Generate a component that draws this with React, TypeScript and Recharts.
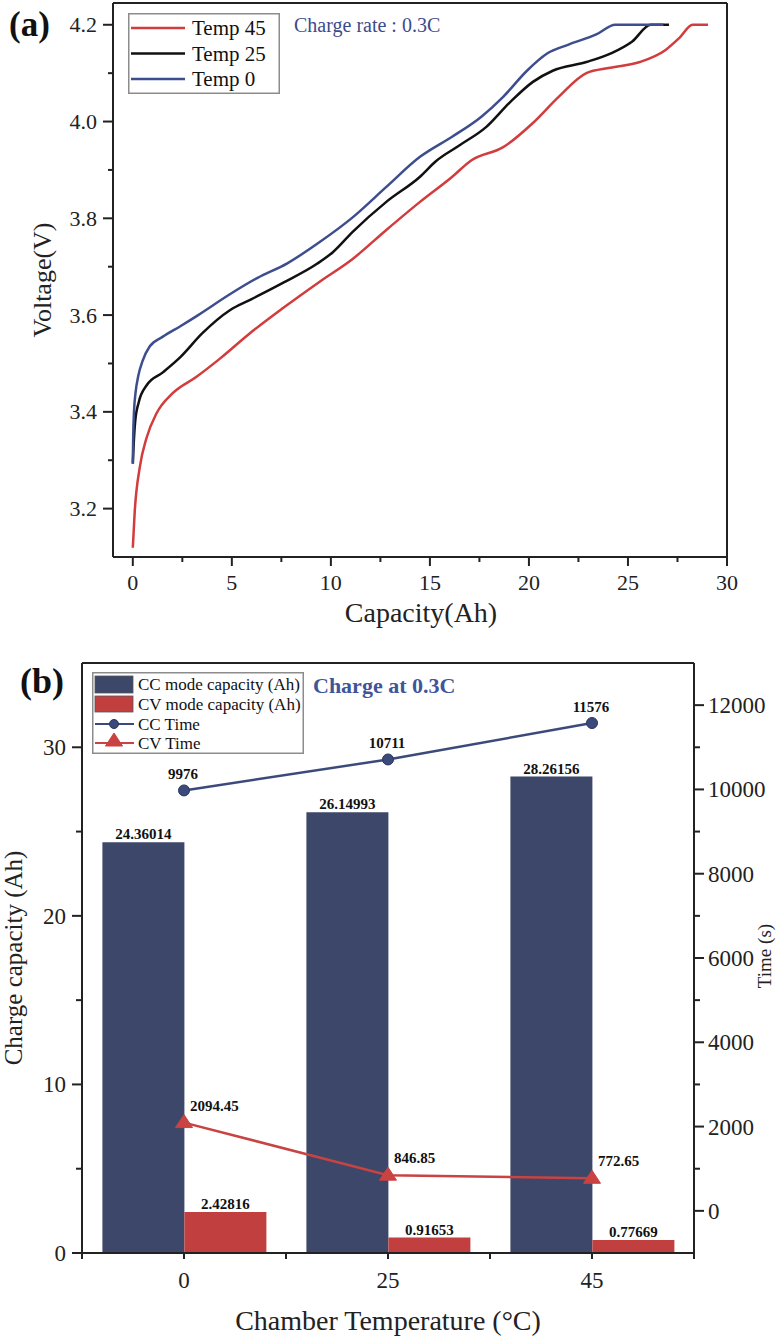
import React from "react";
import {
  Bar,
  ComposedChart,
  LabelList,
  Legend,
  Line,
  LineChart,
  ReferenceLine,
  XAxis,
  YAxis,
} from "recharts";

const FONT = '"Liberation Serif", "Times New Roman", Times, serif';
const INK = "#222";

// (a) charge curves, capacity (Ah) vs voltage (V)
const temp45Cap = [0, 0.1, 0.35, 0.7, 1.2, 2.0, 3.2, 4.4, 5.9, 7.6, 9.4, 11.1, 12.8, 14.5, 16.1, 17.1, 18.7, 20.2, 21.5, 22.9, 24.1, 25.6, 26.9, 27.6, 28.26, 29.04]
const temp45Volt = [3.119, 3.196, 3.285, 3.347, 3.397, 3.438, 3.472, 3.51, 3.562, 3.615, 3.668, 3.716, 3.776, 3.834, 3.885, 3.92, 3.947, 3.997, 4.051, 4.1, 4.111, 4.123, 4.148, 4.173, 4.2, 4.2]

const temp25Cap = [0, 0.04, 0.12, 0.3, 0.7, 1.5, 2.4, 3.5, 4.9, 6.0, 7.6, 9.3, 10.1, 11.1, 12.8, 14.5, 15.3, 16.5, 17.85, 19.0, 20.2, 21.2, 22.9, 24.2, 25.2, 26.15, 27.07]
const temp25Volt = [3.293, 3.33, 3.38, 3.42, 3.455, 3.481, 3.513, 3.562, 3.61, 3.633, 3.667, 3.706, 3.73, 3.772, 3.834, 3.886, 3.918, 3.951, 3.989, 4.038, 4.082, 4.105, 4.123, 4.142, 4.165, 4.2, 4.2]

const temp0Cap = [0, 0.02, 0.06, 0.14, 0.28, 0.5, 0.85, 1.5, 2.4, 3.3, 4.9, 6.3, 7.8, 9.4, 11.1, 12.8, 14.5, 16.1, 17.6, 18.7, 19.9, 20.9, 22.0, 23.4, 24.36, 26.79]
const temp0Volt = [3.293, 3.35, 3.4, 3.44, 3.475, 3.506, 3.535, 3.555, 3.577, 3.6, 3.643, 3.677, 3.707, 3.75, 3.802, 3.865, 3.927, 3.968, 4.01, 4.051, 4.105, 4.14, 4.159, 4.18, 4.2, 4.2]

const capacityTicks = [0, 2.5, 5, 7.5, 10, 12.5, 15, 17.5, 20, 22.5, 25, 27.5, 30]
const voltageTicks = [3.2, 3.3, 3.4, 3.5, 3.6, 3.7, 3.8, 3.9, 4.0, 4.1, 4.2]

// (b) capacity and time per chamber temperature
const chamberTemps = ["0", "25", "45"]
const ccCapacity = [24.36014, 26.14993, 28.26156]
const cvCapacity = [2.42816, 0.91653, 0.77669]
const ccTime = [9976, 10711, 11576]
const cvTime = [2094.45, 846.85, 772.65]

const chargeCapTicks = [0, 5, 10, 15, 20, 25, 30]
const timeTicks = [0, 1000, 2000, 3000, 4000, 5000, 6000, 7000, 8000, 9000, 10000, 11000, 12000]

const toPoints = (caps: number[], volts: number[]) =>
  caps.map((cap, i) => ({ cap, volt: volts[i] }))

const curveSeries = [
  { name: "Temp 45", color: "#d23c3c", points: toPoints(temp45Cap, temp45Volt) },
  { name: "Temp 25", color: "#111111", points: toPoints(temp25Cap, temp25Volt) },
  { name: "Temp 0", color: "#3d4e8e", points: toPoints(temp0Cap, temp0Volt) },
]

const rowsB = chamberTemps.map((temp, i) => ({
  temp,
  cc: ccCapacity[i],
  cv: cvCapacity[i],
  ccTime: ccTime[i],
  cvTime: cvTime[i],
}))

const CC_BAR = "#3c4769"
const CV_BAR = "#c23f3f"
const CC_LINE = "#3b4a7a"
const CV_LINE = "#c84341"

// chart (b) geometry
const B_W = 776
const B_H = 714
const B_MARGIN = { top: 33, right: 22, bottom: 41, left: 22 }
const B_AXIS_W = 60
const bandHalf = (B_W - B_MARGIN.left - B_MARGIN.right - 2 * B_AXIS_W) / chamberTemps.length / 2

const CapacityTick = ({ x, y, payload }: any) => {
  const v = Number(payload.value)
  const major = v % 5 === 0
  return (
    <g>
      <line x1={x} x2={x} y1={y} y2={y + (major ? 9 : 5)} stroke={INK} strokeWidth={2} />
      {major && (
        <text x={x} y={y + 33} textAnchor="middle" fontFamily={FONT} fontSize={22} fill={INK}>
          {v}
        </text>
      )}
    </g>
  )
}

const VoltageTick = ({ x, y, payload }: any) => {
  const v = Number(payload.value)
  const major = Math.round(v * 10) % 2 === 0
  return (
    <g>
      <line x1={x} x2={x - (major ? 10 : 5)} y1={y} y2={y} stroke={INK} strokeWidth={2} />
      {major && (
        <text x={x - 16} y={y + 7.5} textAnchor="end" fontFamily={FONT} fontSize={22} fill={INK}>
          {v.toFixed(1)}
        </text>
      )}
    </g>
  )
}

const TempTick = ({ x, y, payload, index }: any) => (
  <g>
    <line x1={x} x2={x} y1={y} y2={y + 6} stroke={INK} strokeWidth={2} />
    <line x1={x - bandHalf} x2={x - bandHalf} y1={y} y2={y + 6} stroke={INK} strokeWidth={2} />
    {index === chamberTemps.length - 1 && (
      <line x1={x + bandHalf} x2={x + bandHalf} y1={y} y2={y + 6} stroke={INK} strokeWidth={2} />
    )}
    <text x={x} y={y + 35} textAnchor="middle" fontFamily={FONT} fontSize={23} fill={INK}>
      {payload.value}
    </text>
  </g>
)

const ChargeCapTick = ({ x, y, payload }: any) => {
  const v = Number(payload.value)
  const major = v % 10 === 0
  return (
    <g>
      <line x1={x} x2={x - (major ? 10 : 6)} y1={y} y2={y} stroke={INK} strokeWidth={2} />
      {major && (
        <text x={x - 16} y={y + 8} textAnchor="end" fontFamily={FONT} fontSize={23} fill={INK}>
          {v}
        </text>
      )}
    </g>
  )
}

const TimeTick = ({ x, y, payload }: any) => {
  const v = Number(payload.value)
  const major = v % 2000 === 0
  return (
    <g>
      <line x1={x} x2={x + (major ? 10 : 6)} y1={y} y2={y} stroke={INK} strokeWidth={2} />
      {major && (
        <text x={x + 14} y={y + 8} textAnchor="start" fontFamily={FONT} fontSize={23} fill={INK}>
          {v}
        </text>
      )}
    </g>
  )
}

const boxOf = (props: any) => {
  const vb = props.viewBox || {}
  return {
    x: vb.x ?? props.x ?? 0,
    y: vb.y ?? props.y ?? 0,
    width: vb.width ?? props.width ?? 0,
  }
}

const BarValueLabel = (props: any) => {
  const b = boxOf(props)
  return (
    <text x={b.x + b.width / 2} y={b.y - 3} textAnchor="middle" fontFamily={FONT} fontWeight="bold" fontSize={15} fill="#111">
      {props.value}
    </text>
  )
}

const CcTimeLabel = (props: any) => {
  const b = boxOf(props)
  return (
    <text x={b.x - 1} y={b.y - 11} textAnchor="middle" fontFamily={FONT} fontWeight="bold" fontSize={15} fill="#111">
      {props.value}
    </text>
  )
}

const CvTimeLabel = (props: any) => {
  const b = boxOf(props)
  return (
    <text x={b.x + 6} y={b.y - 12} textAnchor="start" fontFamily={FONT} fontWeight="bold" fontSize={15} fill="#111">
      {props.value}
    </text>
  )
}

const Triangle = ({ cx, cy, color }: { cx: number; cy: number; color: string }) => (
  <polygon points={`${cx},${cy - 8} ${cx - 8.5},${cy + 5} ${cx + 8.5},${cy + 5}`} fill={color} stroke={color} strokeWidth={1} />
)

const CurveLegend = () => (
  <svg width={152} height={81} style={{ display: "block" }}>
    <rect x={0.75} y={0.75} width={150.5} height={79.5} fill="#fff" stroke="#8c8c8c" strokeWidth={1.5} />
    {curveSeries.map((s, i) => {
      const cy = 15 + i * 25.5
      return (
        <g key={s.name}>
          <line x1={3} x2={57} y1={cy} y2={cy} stroke={s.color} strokeWidth={2.5} />
          <text x={64} y={cy + 7} fontFamily={FONT} fontSize={21} fill="#111">
            {s.name}
          </text>
        </g>
      )
    })}
  </svg>
)

const ModeLegend = () => (
  <svg width={212} height={82} style={{ display: "block" }}>
    <rect x={0.75} y={0.75} width={210.5} height={80.5} fill="#fff" stroke="#8c8c8c" strokeWidth={1.5} />
    <rect x={3} y={4} width={38} height={17} fill={CC_BAR} stroke="#555" strokeWidth={0.8} />
    <text x={46} y={18} fontFamily={FONT} fontSize={17} fill="#111">CC mode capacity (Ah)</text>
    <rect x={3} y={24} width={38} height={16} fill={CV_BAR} stroke="#555" strokeWidth={0.8} />
    <text x={46} y={38} fontFamily={FONT} fontSize={17} fill="#111">CV mode capacity (Ah)</text>
    <line x1={3} x2={42} y1={52} y2={52} stroke={CC_LINE} strokeWidth={2} />
    <circle cx={22} cy={52} r={4.5} fill={CC_LINE} stroke="#2a3560" />
    <text x={46} y={58} fontFamily={FONT} fontSize={17} fill="#111">CC Time</text>
    <line x1={3} x2={42} y1={71} y2={71} stroke={CV_LINE} strokeWidth={2} />
    <Triangle cx={22} cy={69} color={CV_LINE} />
    <text x={46} y={77} fontFamily={FONT} fontSize={17} fill="#111">CV Time</text>
  </svg>
)

const overlayStyle: React.CSSProperties = { position: "absolute", left: 0, top: 0, pointerEvents: "none" }

export default function App() {
  return (
    <div style={{ position: "absolute", left: 0, top: 0, width: 776, height: 1344, overflow: "hidden", background: "#fff" }}>
      <div style={{ position: "absolute", left: 0, top: 0, width: 776, height: 630 }}>
        <LineChart width={776} height={630} margin={{ top: 3, right: 49, bottom: 33, left: 53 }}>
          <XAxis
            type="number"
            dataKey="cap"
            domain={[-1, 30]}
            ticks={capacityTicks}
            interval={0}
            allowDataOverflow
            height={40}
            tickSize={0}
            tickMargin={0}
            tickLine={false}
            tick={CapacityTick}
            axisLine={{ stroke: INK, strokeWidth: 2 }}
          />
          <YAxis
            type="number"
            domain={[3.1, 4.245]}
            ticks={voltageTicks}
            interval={0}
            allowDataOverflow
            width={60}
            tickSize={0}
            tickMargin={0}
            tickLine={false}
            tick={VoltageTick}
            axisLine={{ stroke: INK, strokeWidth: 2 }}
          />
          <ReferenceLine y={4.245} stroke={INK} strokeWidth={2} />
          <ReferenceLine x={30} stroke={INK} strokeWidth={2} />
          {curveSeries.map((s) => (
            <Line
              key={s.name}
              data={s.points}
              dataKey="volt"
              name={s.name}
              type="monotone"
              stroke={s.color}
              strokeWidth={2.5}
              dot={false}
              activeDot={false}
              isAnimationActive={false}
            />
          ))}
          <Legend
            layout="horizontal"
            verticalAlign="middle"
            align="center"
            content={() => <CurveLegend />}
            wrapperStyle={{ position: "absolute", left: 128, top: 13, width: 152, height: 81 }}
          />
        </LineChart>
        <svg width={776} height={630} style={overlayStyle}>
          <text x={9} y={36} fontFamily={FONT} fontWeight="bold" fontSize={35} fill="#111">(a)</text>
          <text x={294} y={32} fontFamily={FONT} fontSize={20} fill="#3c4b8c">Charge rate : 0.3C</text>
          <text x={51} y={280} transform="rotate(-90 51 280)" textAnchor="middle" fontFamily={FONT} fontSize={26} fill={INK}>
            Voltage(V)
          </text>
          <text x={421} y={622} textAnchor="middle" fontFamily={FONT} fontSize={28} fill={INK}>
            Capacity(Ah)
          </text>
        </svg>
      </div>

      <div style={{ position: "absolute", left: 0, top: 630, width: B_W, height: B_H }}>
        <ComposedChart width={B_W} height={B_H} data={rowsB} margin={B_MARGIN} barCategoryGap="10%" barGap={0}>
          <XAxis
            dataKey="temp"
            height={50}
            interval={0}
            tickSize={0}
            tickMargin={0}
            tickLine={false}
            tick={TempTick}
            axisLine={{ stroke: INK, strokeWidth: 2 }}
          />
          <YAxis
            yAxisId="cap"
            domain={[0, 35]}
            ticks={chargeCapTicks}
            interval={0}
            allowDataOverflow
            width={B_AXIS_W}
            tickSize={0}
            tickMargin={0}
            tickLine={false}
            tick={ChargeCapTick}
            axisLine={{ stroke: INK, strokeWidth: 2 }}
          />
          <YAxis
            yAxisId="time"
            orientation="right"
            domain={[-1000, 13000]}
            ticks={timeTicks}
            interval={0}
            allowDataOverflow
            width={B_AXIS_W}
            tickSize={0}
            tickMargin={0}
            tickLine={false}
            tick={TimeTick}
            axisLine={{ stroke: INK, strokeWidth: 2 }}
          />
          <ReferenceLine yAxisId="cap" y={35} stroke={INK} strokeWidth={2} />
          <Bar yAxisId="cap" dataKey="cc" name="CC mode capacity (Ah)" fill={CC_BAR} isAnimationActive={false}>
            <LabelList dataKey="cc" content={BarValueLabel} />
          </Bar>
          <Bar yAxisId="cap" dataKey="cv" name="CV mode capacity (Ah)" fill={CV_BAR} isAnimationActive={false}>
            <LabelList dataKey="cv" content={BarValueLabel} />
          </Bar>
          <Line
            yAxisId="time"
            dataKey="ccTime"
            name="CC Time"
            stroke={CC_LINE}
            strokeWidth={2.5}
            activeDot={false}
            dot={(p: any) => <circle key={`cc-${p.index}`} cx={p.cx} cy={p.cy} r={5.5} fill={CC_LINE} stroke="#2a3560" strokeWidth={1} />}
            isAnimationActive={false}
          >
            <LabelList dataKey="ccTime" content={CcTimeLabel} />
          </Line>
          <Line
            yAxisId="time"
            dataKey="cvTime"
            name="CV Time"
            stroke={CV_LINE}
            strokeWidth={2.5}
            activeDot={false}
            dot={(p: any) => <Triangle key={`cv-${p.index}`} cx={p.cx} cy={p.cy} color={CV_LINE} />}
            isAnimationActive={false}
          >
            <LabelList dataKey="cvTime" content={CvTimeLabel} />
          </Line>
          <Legend
            layout="horizontal"
            verticalAlign="middle"
            align="center"
            content={() => <ModeLegend />}
            wrapperStyle={{ position: "absolute", left: 92, top: 42, width: 212, height: 82 }}
          />
        </ComposedChart>
        <svg width={B_W} height={B_H} style={overlayStyle}>
          <text x={20} y={63} fontFamily={FONT} fontWeight="bold" fontSize={36} fill="#111">(b)</text>
          <text x={313} y={63} fontFamily={FONT} fontWeight="bold" fontSize={22} fill="#3f5599">Charge at 0.3C</text>
          <text x={22} y={328} transform="rotate(-90 22 328)" textAnchor="middle" fontFamily={FONT} fontSize={25} fill={INK}>
            Charge capacity (Ah)
          </text>
          <text x={388} y={700} textAnchor="middle" fontFamily={FONT} fontSize={28} fill={INK}>
            Chamber Temperature (°C)
          </text>
          <text x={771} y={326} transform="rotate(-90 771 326)" textAnchor="middle" fontFamily={FONT} fontSize={19} fill={INK}>
            Time (s)
          </text>
        </svg>
      </div>
    </div>
  )
}
